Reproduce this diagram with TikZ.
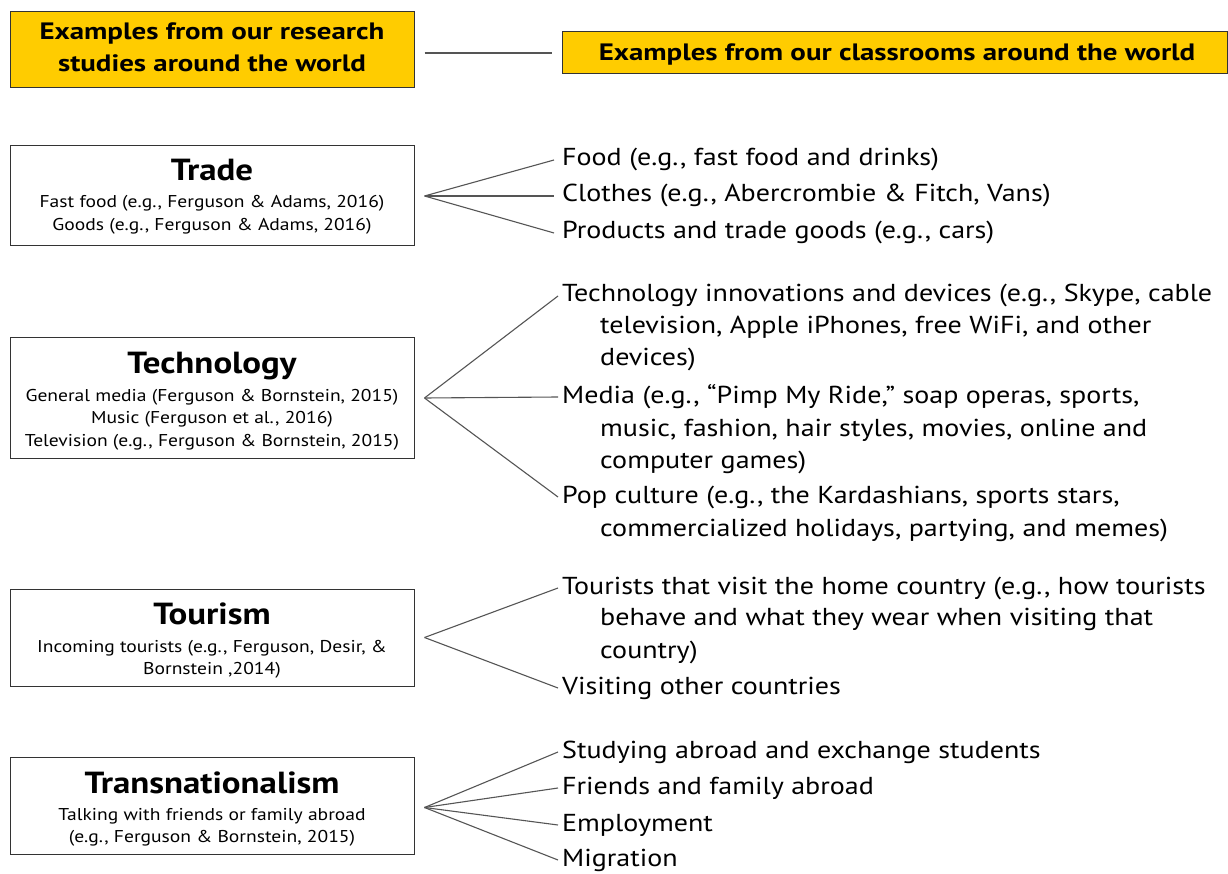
\documentclass[tikz,border=0pt]{standalone}
\usepackage{fontspec}
\setmainfont{PT Sans}[FakeStretch=1.144]
\newfontfamily\boldwide{PT Sans}[FakeStretch=1.22]
\definecolor{hdr}{HTML}{FFCC00}
\definecolor{edge}{HTML}{333333}
\definecolor{conn}{HTML}{555555}
\begin{document}
\begin{tikzpicture}[x=1pt,y=-1pt,
  hdrbox/.style={draw=edge, line width=1pt, fill=hdr, inner sep=0pt},
  catbox/.style={draw=edge, line width=1pt, inner sep=0pt, minimum width=404pt},
  hdrtext/.style={anchor=base, inner sep=0pt, font=\boldwide\fontsize{23.7}{28}\selectfont\bfseries},
  titletext/.style={anchor=base, inner sep=0pt, font=\fontsize{30.5}{36}\selectfont\bfseries},
  subtext/.style={anchor=base, inner sep=0pt, font=\fontsize{17.1}{20}\selectfont},
  item/.style={anchor=base west, inner sep=3pt, text height=17pt, text depth=5pt, font=\fontsize{24.5}{30}\selectfont},
  cont/.style={anchor=base west, inner sep=0pt, font=\fontsize{24.5}{30}\selectfont},
  link/.style={draw=conn, line width=1.1pt}
]
\fill[white] (0,0) rectangle (1228,871);
% headers
\node[hdrbox, minimum width=404pt, minimum height=76pt] (h1) at (212,50) {};
\node[hdrtext] (h1a) at (212,40) {Examples from our research};
\node[hdrtext] (h1b) at (212,72) {studies around the world};
\node[hdrbox, minimum width=665pt, minimum height=42pt] (h2) at (894.5,53) {};
\node[hdrtext] (h2a) at (897,61) {Examples from our classrooms around the world};
\draw[link] ([xshift=10pt]h1.east |- h2.west) -- ([xshift=-10pt]h2.west);
% Trade
\node[catbox, minimum height=100pt] (trade) at (212,196) {};
\node[titletext] (tradet) at (212,181) {Trade};
\node[subtext] (trades1) at (212,208) {Fast food (e.g., Ferguson \& Adams, 2016)};
\node[subtext] (trades2) at (212,231) {Goods (e.g., Ferguson \& Adams, 2016)};
\coordinate (tradeap) at ([xshift=10pt]trade.east);
\node[item] (tr1) at (559,166) {Food (e.g., fast food and drinks)};
\node[item] (tr2) at (559,202) {Clothes (e.g., Abercrombie \& Fitch, Vans)};
\node[item] (tr3) at (559,239) {Products and trade goods (e.g., cars)};
\foreach \n in {tr1,tr2,tr3} \draw[link] (tradeap) -- ([xshift=-5pt]\n.west);
% Technology
\node[catbox, minimum height=120pt] (tech) at (212,398) {};
\node[titletext] (techt) at (212,373) {Technology};
\node[subtext] (techs1) at (212,401) {General media (Ferguson \& Bornstein, 2015)};
\node[subtext] (techs2) at (212,423) {Music (Ferguson et al., 2016)};
\node[subtext] (techs3) at (212,446) {Television (e.g., Ferguson \& Bornstein, 2015)};
\coordinate (techap) at ([xshift=10pt]tech.east);
\node[item] (te1) at (559,302) {Technology innovations and devices (e.g., Skype, cable};
\node[cont] (te1b) at (600,334) {television, Apple iPhones, free WiFi, and other};
\node[cont] (te1c) at (600,365) {devices)};
\node[item] (te2) at (559,403) {Media (e.g., “Pimp My Ride,” soap operas, sports,};
\node[cont] (te2b) at (600,436) {music, fashion, hair styles, movies, online and};
\node[cont] (te2c) at (600,468) {computer games)};
\node[item] (te3) at (559,503) {Pop culture (e.g., the Kardashians, sports stars,};
\node[cont] (te3b) at (600,536) {commercialized holidays, partying, and memes)};
\foreach \n in {te1,te2,te3} \draw[link] (techap) -- ([xshift=-1pt]\n.west);
% Tourism
\node[catbox, minimum height=97pt] (tour) at (212,637.5) {};
\node[titletext] (tourt) at (212,624) {Tourism};
\node[subtext] (tours1) at (212,652) {Incoming tourists (e.g., Ferguson, Desir, \&};
\node[subtext] (tours2) at (212,674) {Bornstein ,2014)};
\coordinate (tourap) at ([xshift=10pt]tour.east);
\node[item] (to1) at (559,594) {Tourists that visit the home country (e.g., how tourists};
\node[cont] (to1b) at (600,625) {behave and what they wear when visiting that};
\node[cont] (to1c) at (600,658) {country)};
\node[item] (to2) at (559,694) {Visiting other countries};
\foreach \n in {to1,to2} \draw[link] (tourap) -- ([xshift=-1pt]\n.west);
% Transnationalism
\node[catbox, minimum height=97pt] (trans) at (212,805.5) {};
\node[titletext] (transt) at (212,793) {Transnationalism};
\node[subtext] (transs1) at (212,820) {Talking with friends or family abroad};
\node[subtext] (transs2) at (212,842) {(e.g., Ferguson \& Bornstein, 2015)};
\coordinate (transap) at ([xshift=10pt,yshift=-2pt]trans.east);
\node[item] (tn1) at (559,758) {Studying abroad and exchange students};
\node[item] (tn2) at (559,794) {Friends and family abroad};
\node[item] (tn3) at (559,831) {Employment};
\node[item] (tn4) at (559,866) {Migration};
\foreach \n in {tn1,tn2,tn3,tn4} \draw[link] (transap) -- ([xshift=-1pt]\n.west);
\end{tikzpicture}
\end{document}
